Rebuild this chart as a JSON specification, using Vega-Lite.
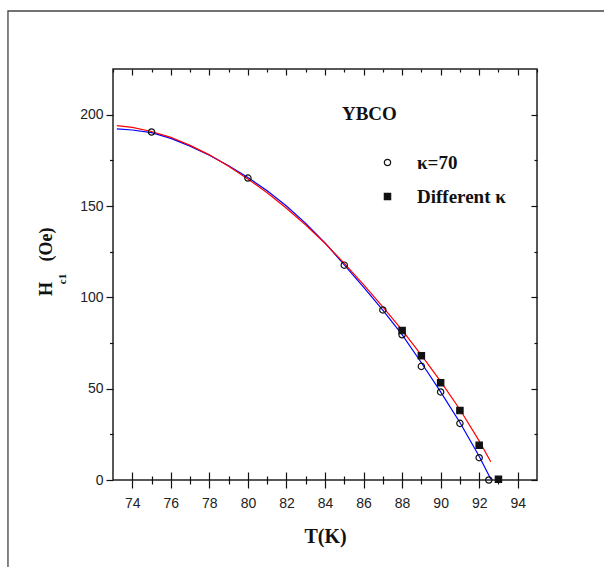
{
  "$schema": "https://vega.github.io/schema/vega-lite/v6.json",
  "autosize": "none",
  "padding": {"left": 113, "top": 69, "right": 67, "bottom": 87},
  "width": 424,
  "height": 411,
  "background": "white",
  "config": {
    "view": {"stroke": "#222", "strokeWidth": 1.5},
    "axis": {"grid": false, "domain": false, "tickColor": "#111", "tickWidth": 1.2, "labelFont": "Liberation Sans", "labelColor": "#222", "labelFontSize": 14, "titleFont": "Liberation Serif", "titleFontWeight": "bold", "titleColor": "#111"}
  },
  "datasets": {
    "blue": [
      {"T": 73.2, "H": 192.2}, {"T": 74, "H": 191.6}, {"T": 75, "H": 190.2}, {"T": 76, "H": 187.0},
      {"T": 77, "H": 182.8}, {"T": 78, "H": 177.8}, {"T": 79, "H": 172.0}, {"T": 80, "H": 165.6},
      {"T": 81, "H": 158.3}, {"T": 82, "H": 150.0}, {"T": 83, "H": 140.5}, {"T": 84, "H": 129.8},
      {"T": 85, "H": 117.8}, {"T": 86, "H": 105.6}, {"T": 87, "H": 93.0}, {"T": 88, "H": 79.6},
      {"T": 89, "H": 64.2}, {"T": 90, "H": 48.2}, {"T": 91, "H": 31.5}, {"T": 92, "H": 13.0},
      {"T": 92.6, "H": 0.5}
    ],
    "red": [
      {"T": 73.2, "H": 194.0}, {"T": 74, "H": 193.0}, {"T": 75, "H": 190.8}, {"T": 76, "H": 187.6},
      {"T": 77, "H": 183.2}, {"T": 78, "H": 178.0}, {"T": 79, "H": 171.8}, {"T": 80, "H": 164.8},
      {"T": 81, "H": 157.2}, {"T": 82, "H": 148.8}, {"T": 83, "H": 139.6}, {"T": 84, "H": 129.6},
      {"T": 85, "H": 118.6}, {"T": 86, "H": 107.0}, {"T": 87, "H": 94.8}, {"T": 88, "H": 82.0},
      {"T": 89, "H": 68.4}, {"T": 90, "H": 54.0}, {"T": 91, "H": 38.6}, {"T": 92, "H": 21.4},
      {"T": 92.6, "H": 10.0}
    ],
    "points": [
      {"T": 75, "H": 190.5, "series": "κ=70"}, {"T": 80, "H": 165.3, "series": "κ=70"},
      {"T": 85, "H": 117.6, "series": "κ=70"}, {"T": 87, "H": 93.1, "series": "κ=70"},
      {"T": 88, "H": 79.5, "series": "κ=70"}, {"T": 89, "H": 62.2, "series": "κ=70"},
      {"T": 90, "H": 48.2, "series": "κ=70"}, {"T": 91, "H": 31.0, "series": "κ=70"},
      {"T": 92, "H": 12.2, "series": "κ=70"}, {"T": 92.5, "H": 0.0, "series": "κ=70"},
      {"T": 88, "H": 81.8, "series": "Different κ"}, {"T": 89, "H": 68.0, "series": "Different κ"},
      {"T": 90, "H": 53.2, "series": "Different κ"}, {"T": 91, "H": 38.0, "series": "Different κ"},
      {"T": 92, "H": 19.0, "series": "Different κ"}, {"T": 93, "H": 0.4, "series": "Different κ"}
    ]
  },
  "resolve": {"axis": {"x": "independent", "y": "independent"}},
  "layer": [
    {
      "data": {"values": [{}]},
      "mark": {"type": "rect", "fill": null, "fillOpacity": 0, "stroke": "#444", "strokeWidth": 1.3, "clip": false},
      "encoding": {
        "x": {"datum": 67.55, "type": "quantitative", "scale": {"domain": [73, 95], "nice": false, "zero": false},
              "axis": {"orient": "top", "values": [74, 76, 78, 80, 82, 84, 86, 88, 90, 92, 94], "tickSize": -6, "labels": false, "title": null}},
        "x2": {"datum": 120},
        "y": {"datum": 256.75, "type": "quantitative", "scale": {"domain": [0, 225], "nice": false, "zero": false},
              "axis": {"orient": "right", "values": [0, 50, 100, 150, 200], "tickSize": -6, "labels": false, "title": null}},
        "y2": {"datum": -100}
      }
    },
    {
      "data": {"name": "blue"},
      "mark": {"type": "line", "color": "#0000ff", "strokeWidth": 1.2},
      "encoding": {
        "x": {"field": "T", "type": "quantitative", "scale": {"domain": [73, 95], "nice": false, "zero": false},
              "axis": {"orient": "bottom", "values": [74, 76, 78, 80, 82, 84, 86, 88, 90, 92, 94], "tickSize": 8, "labelPadding": 8, "title": "T(K)", "titleFontSize": 20, "titlePadding": 16}},
        "y": {"field": "H", "type": "quantitative", "scale": {"domain": [0, 225], "nice": false, "zero": false},
              "axis": {"orient": "left", "values": [0, 50, 100, 150, 200], "tickSize": 7, "labelPadding": 3, "title": null}}
      }
    },
    {
      "data": {"name": "red"},
      "mark": {"type": "line", "color": "#ff0000", "strokeWidth": 1.2},
      "encoding": {
        "x": {"field": "T", "type": "quantitative",
              "axis": {"orient": "bottom", "values": [74, 76, 78, 80, 82, 84, 86, 88, 90, 92, 94], "tickSize": -8, "labels": false, "title": null}},
        "y": {"field": "H", "type": "quantitative",
              "axis": {"orient": "left", "values": [25, 75, 125, 175], "tickSize": 3.5, "labels": false, "title": null}}
      }
    },
    {
      "data": {"name": "points"},
      "mark": {"type": "point", "strokeWidth": 1.2, "size": 40, "opacity": 1},
      "encoding": {
        "x": {"field": "T", "type": "quantitative",
              "axis": {"orient": "bottom", "values": [75, 77, 79, 81, 83, 85, 87, 89, 91, 93], "offset": -4, "tickSize": 8, "labels": false, "title": null}},
        "y": {"field": "H", "type": "quantitative",
              "axis": {"orient": "right", "values": [25, 75, 125, 175], "tickSize": -3, "labels": false, "title": null}},
        "shape": {"field": "series", "type": "nominal", "scale": {"domain": ["κ=70", "Different κ"], "range": ["circle", "square"]},
                  "legend": {"title": null, "orient": "none", "legendX": 265, "legendY": 84, "padding": 0, "labelOffset": 20, "rowPadding": 14, "labelFont": "Liberation Serif", "labelFontWeight": "bold", "labelFontSize": 19, "labelColor": "#111", "symbolStrokeWidth": 1.2, "symbolSize": 40}},
        "fill": {"field": "series", "type": "nominal", "scale": {"domain": ["κ=70", "Different κ"], "range": ["transparent", "#111"]},
                 "legend": {"title": null, "orient": "none", "legendX": 265, "legendY": 84, "padding": 0, "labelOffset": 20, "rowPadding": 14, "labelFont": "Liberation Serif", "labelFontWeight": "bold", "labelFontSize": 19, "labelColor": "#111", "symbolStrokeWidth": 1.2, "symbolSize": 40}},
        "stroke": {"field": "series", "type": "nominal", "scale": {"domain": ["κ=70", "Different κ"], "range": ["#111", "#111"]},
                 "legend": {"title": null, "orient": "none", "legendX": 265, "legendY": 84, "padding": 0, "labelOffset": 20, "rowPadding": 14, "labelFont": "Liberation Serif", "labelFontWeight": "bold", "labelFontSize": 19, "labelColor": "#111", "symbolStrokeWidth": 1.2, "symbolSize": 40}}
      }
    },
    {
      "data": {"values": [{"label": "YBCO"}]},
      "mark": {"type": "text", "font": "Liberation Serif", "fontWeight": "bold", "fontSize": 19, "align": "left", "baseline": "alphabetic", "color": "#111"},
      "encoding": {
        "x": {"datum": 84.88, "type": "quantitative",
              "axis": {"orient": "top", "values": [73, 75, 77, 79, 81, 83, 85, 87, 89, 91, 93, 95], "tickSize": -3, "labels": false, "title": null}},
        "y": {"datum": 197.1, "type": "quantitative", "axis": null},
        "text": {"field": "label"}
      }
    },
    {
      "data": {"values": [{"label": "H"}]},
      "mark": {"type": "text", "font": "Liberation Serif", "fontWeight": "bold", "fontSize": 18, "angle": 270, "align": "center", "baseline": "alphabetic", "color": "#111"},
      "encoding": {
        "x": {"datum": 69.82, "type": "quantitative", "axis": null},
        "y": {"datum": 104.6, "type": "quantitative", "axis": null},
        "text": {"field": "label"}
      }
    },
    {
      "data": {"values": [{"label": "c1"}]},
      "mark": {"type": "text", "font": "Liberation Serif", "fontWeight": "bold", "fontSize": 11, "angle": 270, "align": "center", "baseline": "alphabetic", "color": "#111"},
      "encoding": {
        "x": {"datum": 70.56, "type": "quantitative", "axis": null},
        "y": {"datum": 110.0, "type": "quantitative", "axis": null},
        "text": {"field": "label"}
      }
    },
    {
      "data": {"values": [{"label": "(Oe)"}]},
      "mark": {"type": "text", "font": "Liberation Serif", "fontWeight": "bold", "fontSize": 18, "angle": 270, "align": "center", "baseline": "alphabetic", "color": "#111"},
      "encoding": {
        "x": {"datum": 69.82, "type": "quantitative", "axis": null},
        "y": {"datum": 128.9, "type": "quantitative", "axis": null},
        "text": {"field": "label"}
      }
    }
  ]
}
